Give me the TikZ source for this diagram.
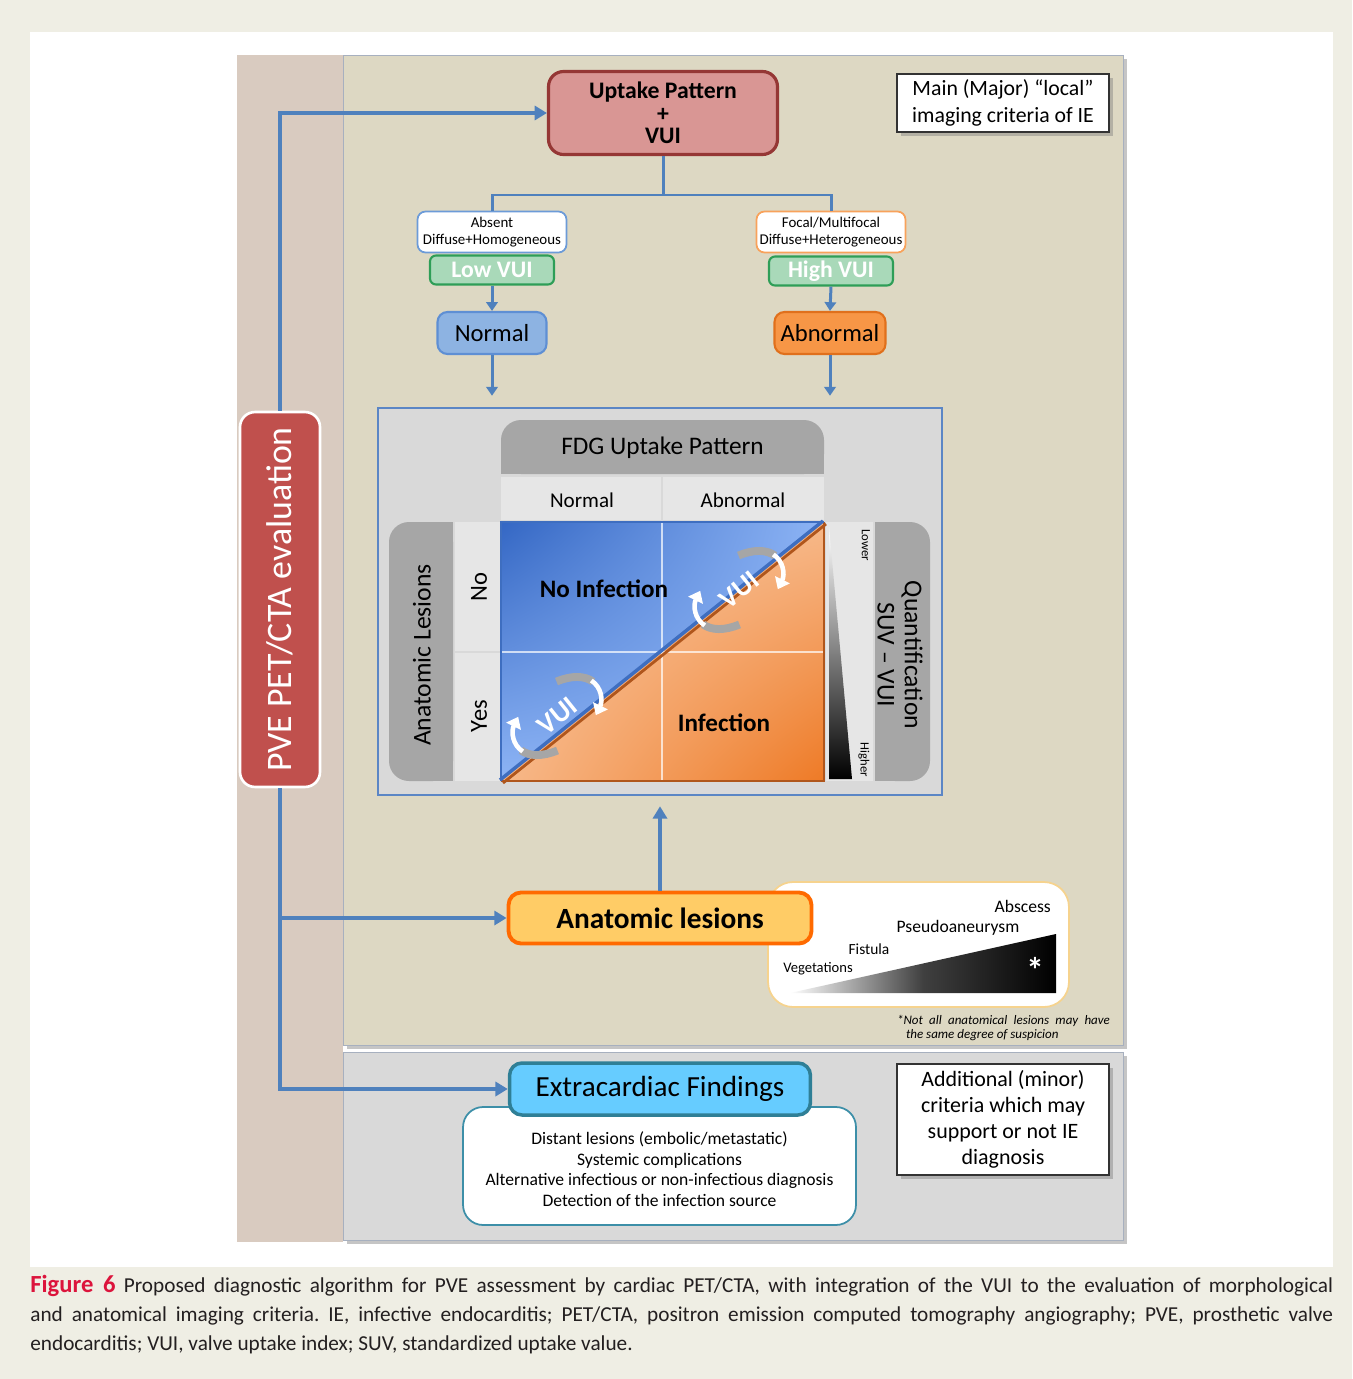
\documentclass[tikz,border=0pt]{standalone}
\usepackage{fontspec}
\setmainfont{Carlito}
\usetikzlibrary{arrows.meta,shadows,shadings}
\definecolor{pagebg}{HTML}{EFEEE4}
\definecolor{sidecol}{HTML}{D9CBC0}
\definecolor{majorbg}{HTML}{DDD8C3}
\definecolor{minorbg}{HTML}{D9D9D9}
\definecolor{panelline}{HTML}{A7B0BF}
\definecolor{flowblue}{HTML}{4F81BD}
\definecolor{pvered}{HTML}{C0504D}
\definecolor{uptakefill}{HTML}{D99694}
\definecolor{uptakeline}{HTML}{953735}
\definecolor{lowline}{HTML}{6C9BD8}
\definecolor{highline}{HTML}{F8A25B}
\definecolor{vuifill}{HTML}{A9D9B9}
\definecolor{vuiline}{HTML}{2E9E57}
\definecolor{normfill}{HTML}{8DB3E2}
\definecolor{normline}{HTML}{5E8FD4}
\definecolor{abnfill}{HTML}{F79646}
\definecolor{abnline}{HTML}{E0701C}
\definecolor{framefill}{HTML}{D9D9D9}
\definecolor{frameline}{HTML}{5B86C5}
\definecolor{hdrgray}{HTML}{A6A6A6}
\definecolor{cellgray}{HTML}{E6E6E6}
\definecolor{blue1}{HTML}{3467C4}
\definecolor{blue2}{HTML}{8DB4F5}
\definecolor{orange1}{HTML}{F9C8A2}
\definecolor{orange2}{HTML}{EE7A26}
\definecolor{diagblue}{HTML}{3E6EC0}
\definecolor{diagbrown}{HTML}{B0561C}
\definecolor{anatfill}{HTML}{FFCC66}
\definecolor{anatline}{HTML}{FF6A00}
\definecolor{calloutline}{HTML}{F6D38E}
\definecolor{extrafill}{HTML}{66CCFF}
\definecolor{extraline}{HTML}{2F7F96}
\definecolor{listline}{HTML}{3D8FA8}
\definecolor{figred}{HTML}{DC143C}
\definecolor{captext}{HTML}{231F20}

\begin{document}
\begin{tikzpicture}[x=0.02cm,y=-0.02cm,
  box/.style={draw,align=center,inner sep=0pt},
  flow/.style={draw=flowblue,line width=2.2pt,-{Triangle[length=7pt,width=8pt]}},
  tree/.style={draw=flowblue,line width=1.7pt},
  treearrow/.style={tree,-{Triangle[length=5pt,width=6.5pt]}},
  turn/.style={white,line width=2.6pt,-{Triangle[length=6pt,width=9pt]}},
  shadowed/.style={drop shadow={shadow xshift=2pt,shadow yshift=-2pt,opacity=.45}}]

% Background and panels
\fill[pagebg] (0,0) rectangle (1352,1379);
\fill[white] (30,32) rectangle (1333,1267);
\fill[sidecol] (237,55) rectangle (343,1242);
\draw[panelline,fill=majorbg,shadowed] (343,55) rectangle (1123,1045);
\draw[panelline,fill=minorbg,shadowed] (343,1052) rectangle (1123,1240);

% Flow boxes
\node[box,rotate=90,fill=pvered,draw=white,line width=1.5pt,rounded corners=0.3cm,
  minimum width=7.5cm,minimum height=1.6cm,text=white,
  font=\fontsize{20.4}{20.4}\selectfont] (pve) at (280,599.5) {PVE PET/CTA evaluation};
\node[box,fill=uptakefill,draw=uptakeline,line width=1.8pt,rounded corners=0.3cm,
  minimum width=4.58cm,minimum height=1.66cm,
  font=\fontsize{13.5}{12.9}\selectfont\bfseries] (uptake) at (663,113) {Uptake Pattern\\+\\VUI};
\node[box,fill=white,draw=black!80,line width=1.2pt,minimum width=4.24cm,minimum height=1.16cm,
  font=\fontsize{12.4}{15}\selectfont,shadowed] (major) at (1003,103) {Main (Major) “local”\\imaging criteria of IE};

% Low / high branches
\coordinate (split) at (663,195);
\node[box,fill=white,draw=lowline,line width=1pt,rounded corners=0.16cm,
  minimum width=2.98cm,minimum height=0.82cm,font=\fontsize{8.5}{9.6}\selectfont]
  (absent) at (492,232) {Absent\\Diffuse+Homogeneous};
\node[box,fill=white,draw=highline,line width=1pt,rounded corners=0.16cm,
  minimum width=2.98cm,minimum height=0.82cm,font=\fontsize{8.5}{9.6}\selectfont]
  (focal) at (831,232) {Focal/Multifocal\\Diffuse+Heterogeneous};
\node[box,fill=vuifill,draw=vuiline,line width=1.2pt,rounded corners=0.12cm,
  minimum width=2.48cm,minimum height=0.58cm,text=white,
  font=\fontsize{13.5}{13.5}\selectfont\bfseries] (lowvui) at (492,270) {Low VUI};
\node[box,fill=vuifill,draw=vuiline,line width=1.2pt,rounded corners=0.12cm,
  minimum width=2.48cm,minimum height=0.58cm,text=white,
  font=\fontsize{13.5}{13.5}\selectfont\bfseries] (highvui) at (831,271) {High VUI};
\node[box,fill=normfill,draw=normline,line width=1.2pt,rounded corners=0.2cm,
  minimum width=2.18cm,minimum height=0.84cm,font=\fontsize{14}{14}\selectfont]
  (normal) at (492,333) {Normal};
\node[box,fill=abnfill,draw=abnline,line width=1.2pt,rounded corners=0.2cm,
  minimum width=2.22cm,minimum height=0.84cm,font=\fontsize{14}{14}\selectfont]
  (abnormal) at (830,333) {Abnormal};

\draw[tree] (uptake.south) -- (split) -| (absent.north);
\draw[tree] (split) -| (focal.north);
\draw[treearrow] (lowvui.south) -- (normal.north);
\draw[treearrow] (highvui.south) -- (abnormal.north);

% Matrix frame
\node[draw=frameline,line width=1.5pt,fill=framefill,minimum width=11.28cm,
  minimum height=7.74cm,inner sep=0pt] (frame) at (660,601.5) {};
\draw[treearrow] (normal.south) -- (normal.south |- frame.north) [shorten >=0.22cm];
\draw[treearrow] (abnormal.south) -- (abnormal.south |- frame.north) [shorten >=0.22cm];

% Headers
\fill[hdrgray,rounded corners=0.4cm] (501,420) rectangle (824,474);
\fill[hdrgray] (501,447) rectangle (824,474);
\node[font=\fontsize{14.4}{14.4}\selectfont] (fdg) at (662.5,448) {FDG Uptake Pattern};
\fill[cellgray] (501,477) rectangle (661,520);
\fill[cellgray] (663,477) rectangle (824,520);
\node[font=\fontsize{12}{12}\selectfont] (colnormal) at (582,500) {Normal};
\node[font=\fontsize{12}{12}\selectfont] (colabnormal) at (743,500) {Abnormal};

\fill[hdrgray,rounded corners=0.4cm] (389,522) rectangle (453,781);
\fill[hdrgray] (425,522) rectangle (453,781);
\node[rotate=90,font=\fontsize{14.6}{14.6}\selectfont] (lesionsside) at (422,655) {Anatomic Lesions};
\fill[cellgray] (455,522) rectangle (500,651);
\fill[cellgray] (455,653) rectangle (500,781);
\node[rotate=90,font=\fontsize{14}{14}\selectfont] (rowno) at (479,587) {No};
\node[rotate=90,font=\fontsize{14}{14}\selectfont] (rowyes) at (479,716) {Yes};

\fill[cellgray] (826,522) rectangle (873,781);
\fill[hdrgray,rounded corners=0.4cm] (875,522) rectangle (930,781);
\fill[hdrgray] (875,522) rectangle (900,781);
\node[rotate=-90,align=center,font=\fontsize{14.6}{15.5}\selectfont] (quant) at (900,655) {Quantification\\SUV – VUI};

% Quadrants
\begin{scope}
\clip (501,522) -- (824,522) -- (501,781) -- cycle;
\shade[upper left=blue1,upper right=blue2,lower left=blue2,lower right=blue2] (501,522) rectangle (824,781);
\end{scope}
\begin{scope}
\clip (824,522) -- (824,781) -- (501,781) -- cycle;
\shade[upper left=orange1,upper right=orange1!80!orange2,lower left=orange1!80!orange2,lower right=orange2] (501,522) rectangle (824,781);
\end{scope}
\draw[white,opacity=.7,line width=.6pt] (662,522) -- (662,781) (501,652) -- (824,652);
\draw[diagblue,line width=1.2pt] (501,781) -- (501,522) -- (824,522);
\draw[diagbrown,line width=1.2pt] (501,781) -- (824,781) -- (824,522);
\draw[diagbrown,line width=1.6pt] (503,783) -- (826,524);
\draw[diagblue,line width=2pt] (500,780) -- (823,521);

\node[font=\fontsize{14.3}{14.3}\selectfont\bfseries] (noinf) at (604,589) {No Infection};
\node[font=\fontsize{14.3}{14.3}\selectfont\bfseries] (inf) at (724,723) {Infection};

% VUI turning arrows
\foreach \cx/\cy [count=\i] in {739/590,557/716}{%
  \begin{scope}[shift={(\cx,\cy)},rotate=38.7,y=0.02cm]
    \draw[hdrgray,line width=4.5pt] (245:50 and 30) arc[start angle=245,end angle=188,x radius=50,y radius=30];
    \draw[hdrgray,line width=4.5pt] (65:50 and 30) arc[start angle=65,end angle=8,x radius=50,y radius=30];
    \draw[turn] (192:50 and 30) arc[start angle=192,end angle=128,x radius=50,y radius=30];
    \draw[turn] (12:50 and 30) arc[start angle=12,end angle=-52,x radius=50,y radius=30];
    \node[rotate=38.7,text=white,font=\fontsize{16}{16}\selectfont\bfseries] (vui\i) at (0,0) {VUI};
  \end{scope}
}

% SUV scale
\shade[top color=white,bottom color=black] (829,527) -- (852,779) -- (829,779) -- cycle;
\node[rotate=-90,font=\fontsize{7.2}{7.2}\selectfont] (lower) at (866,545) {Lower};
\node[rotate=-90,font=\fontsize{7.2}{7.2}\selectfont] (higher) at (864,760) {Higher};

% Anatomic lesions
\node[box,fill=white,draw=calloutline,line width=1pt,rounded corners=0.5cm,
  minimum width=6.02cm,minimum height=2.5cm] (callout) at (918.5,944.5) {};
\shade[left color=white,right color=black,middle color=black!75] (790,993) -- (1056,993) -- (1056,934) -- cycle;
\node[text=white,font=\fontsize{20}{20}\selectfont\bfseries] (star) at (1035,970) {*};
\node[anchor=east,font=\fontsize{10}{10}\selectfont] (abscess) at (1057,906) {Abscess};
\node[font=\fontsize{10}{10}\selectfont] (pseudo) at (958,928) {Pseudoaneurysm};
\node[font=\fontsize{8.8}{8.8}\selectfont] (fistula) at (869,949) {Fistula};
\node[font=\fontsize{8.3}{8.3}\selectfont] (vegetations) at (818,969) {Vegetations};
\node[text width=4.26cm,align=justify,inner sep=0pt,font=\fontsize{7.4}{8.2}\selectfont\itshape]
  (note) at (1003.5,1028) {*Not all anatomical lesions may have\linebreak\hspace*{0.18cm}the same degree of suspicion};

\node[box,fill=anatfill,draw=anatline,line width=2.2pt,rounded corners=0.25cm,
  minimum width=6.06cm,minimum height=1.02cm,font=\fontsize{16.7}{16.7}\selectfont\bfseries]
  (anat) at (660,918) {Anatomic lesions};
\draw[flow] (anat.north) -- (anat.north |- frame.south) [shorten >=0.2cm];

% Extracardiac findings
\node[box,fill=white,draw=listline,line width=1pt,rounded corners=0.4cm,
  minimum width=7.86cm,minimum height=2.36cm] (findings) at (659.5,1166) {};
\node[align=center,font=\fontsize{10}{11.7}\selectfont] (findtext) at (659.5,1169)
  {Distant lesions (embolic/metastatic)\\Systemic complications\\Alternative infectious or non-infectious diagnosis\\Detection of the infection source};
\node[box,fill=extrafill,draw=extraline,line width=2pt,rounded corners=0.25cm,
  minimum width=6.02cm,minimum height=1.04cm,font=\fontsize{16.6}{16.6}\selectfont]
  (extra) at (660,1089) {Extracardiac Findings};
\node[box,fill=white,draw=black!80,line width=1.2pt,minimum width=4.24cm,minimum height=2.22cm,
  font=\fontsize{12.5}{14.7}\selectfont,shadowed] (minor) at (1003,1119.5) {Additional (minor)\\criteria which may\\support or not IE\\diagnosis};

% PVE connectors
\draw[flow] (pve.east) |- (uptake.west);
\draw[flow] (pve.west) |- (anat.west);
\draw[flow] (pve.west) |- (extra.west);

% Caption
\node[anchor=north west,text width=26.06cm,align=justify,inner sep=0pt,text=captext,
  font=\fontsize{12.1}{16.6}\selectfont\frenchspacing] (caption) at (30,1275)
  {{\color{figred}\fontsize{14}{16.6}\selectfont\bfseries Figure 6} Proposed diagnostic algorithm for PVE assessment by cardiac PET/CTA, with integration of the VUI to the evaluation of morphological\linebreak and anatomical imaging criteria. IE, infective endocarditis; PET/CTA, positron emission computed tomography angiography; PVE, prosthetic valve\linebreak endocarditis; VUI, valve uptake index; SUV, standardized uptake value.};
\end{tikzpicture}
\end{document}
